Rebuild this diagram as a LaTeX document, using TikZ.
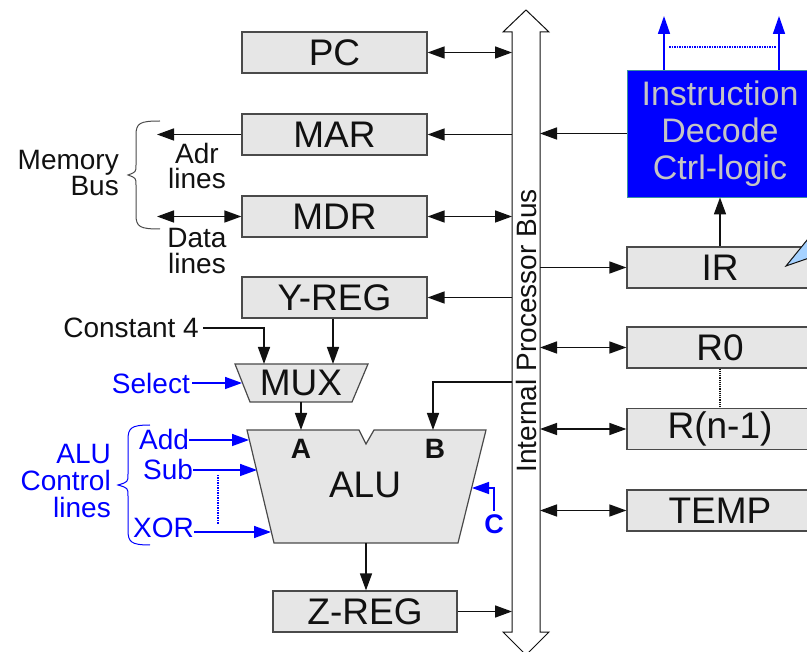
\documentclass[tikz,border=0pt]{standalone}
\usepackage{fontspec}
\setmainfont{Liberation Sans}
\usetikzlibrary{arrows.meta,positioning,calc}
\definecolor{Ink}{HTML}{111111}
\definecolor{RegFill}{HTML}{E6E6E6}
\definecolor{RegEdge}{HTML}{4A4A4A}
\definecolor{CtrlBlue}{HTML}{0000FF}
\definecolor{DecodeEdge}{HTML}{3A8FA0}
\definecolor{DecodeText}{HTML}{C4C4C4}
\definecolor{PointerFill}{HTML}{A6D2FF}
\newcommand{\bigfont}{\fontsize{37}{37}\selectfont}
\newcommand{\midfont}{\fontsize{28}{25.5}\selectfont}

\begin{document}
\begin{tikzpicture}[x=1pt,y=-1pt,
  tipto/.style={-{Triangle[length=17pt,width=12pt]}},
  tipboth/.style={{Triangle[length=17pt,width=12pt]}-{Triangle[length=17pt,width=12pt]}},
  reg/.style={draw=RegEdge,fill=RegFill,line width=1.2pt,minimum height=41pt,inner sep=0pt,font=\bigfont,text=Ink},
  wire/.style={Ink,line width=1.5pt},
  ctrl/.style={CtrlBlue,line width=1.5pt},
  note/.style={font=\midfont,inner sep=0pt,align=center,text=Ink}]
\useasboundingbox (0,0) rectangle (807,652);
% internal bus
\draw[draw=Ink,fill=white,line width=1pt] (526,10) -- (549,32) -- (540,32) -- (540,632) -- (549,632) -- (526,655) -- (503,632) -- (512,632) -- (512,32) -- (503,32) -- cycle;
\coordinate (busL) at (512,330);
\coordinate (busR) at (540,330);
\coordinate (busB) at (512,382);
\node[rotate=90,font=\fontsize{28}{28}\selectfont,text=Ink,inner sep=0pt] (busname) at (526,331) {Internal Processor Bus};
% registers
\node[reg,minimum width=185pt] (PC) at (334.5,52.5) {PC};
\node[reg,minimum width=185pt] (MAR) at (334.5,134.5) {MAR};
\node[reg,minimum width=185pt] (MDR) at (334.5,216.5) {MDR};
\node[reg,minimum width=185pt] (YREG) at (334.5,297.5) {Y-REG};
\node[reg,minimum width=184pt] (ZREG) at (365,611.5) {Z-REG};
\node[reg,minimum width=186pt] (IR) at (720,267.5) {IR};
\node[reg,minimum width=186pt] (R0) at (720,347.5) {R0};
\node[reg,minimum width=186pt] (Rn) at (720,429) {R(n-1)};
\node[reg,minimum width=186pt] (TEMP) at (720,510.5) {TEMP};
\node[draw=DecodeEdge,fill=CtrlBlue,line width=0.8pt,minimum width=186pt,minimum height=127pt,inner sep=0pt,align=center,font=\fontsize{34}{37}\selectfont,text=DecodeText] (decode) at (720,133.5) {Instruction\\Decode\\Ctrl-logic};
\draw[draw=Ink,fill=PointerFill,line width=1pt] (786,266) -- (812,234) -- (812,257) -- cycle;
% bus connections
\draw[wire,tipboth] (PC.east) -- (PC.east -| busL);
\draw[wire,tipto] (MAR.east -| busL) -- (MAR.east);
\draw[wire,tipboth] (MDR.east) -- (MDR.east -| busL);
\draw[wire,tipto] (YREG.east -| busL) -- (YREG.east);
\draw[wire,tipto] (ZREG.east) -- (ZREG.east -| busL);
\draw[wire,tipto] (decode.west) -- (decode.west -| busR);
\draw[wire,tipto] (IR.west -| busR) -- (IR.west);
\draw[wire,tipboth] (R0.west -| busR) -- (R0.west);
\draw[wire,tipboth] (Rn.west -| busR) -- (Rn.west);
\draw[wire,tipboth] (TEMP.west -| busR) -- (TEMP.west);
\draw[wire,tipto] (IR.north) -- (decode.south);
\draw[Ink,densely dotted,line width=1.2pt] (R0.south) -- (Rn.north);
% control outputs
\coordinate (ctlA) at (664,16);
\coordinate (ctlB) at (779,16);
\draw[ctrl,-{Triangle[length=18pt,width=12pt]}] (decode.north -| ctlA) -- (ctlA);
\draw[ctrl,-{Triangle[length=18pt,width=12pt]}] (decode.north -| ctlB) -- (ctlB);
\draw[ctrl,densely dotted,line width=1.2pt] (669,47) -- (776,47);
% memory bus
\coordinate (memEnd) at (157,175);
\draw[wire,tipto] (MAR.west) -- (MAR.west -| memEnd);
\draw[wire,tipboth] (MDR.west) -- (MDR.west -| memEnd);
\draw[RegEdge,line width=1pt] (160,121) .. controls (140,121) and (136,123) .. (136,135) -- (136,165) .. controls (136,172) .. (128,175) .. controls (136,178) .. (136,185) -- (136,215) .. controls (136,227) and (140,229) .. (160,229);
\node[note,anchor=east,align=right] (membus) at (119,173) {Memory\\Bus};
\node[note] (adr) at (197,166) {Adr\\lines};
\node[note] (data) at (197,251) {Data\\lines};
% multiplexer
\draw[RegEdge,fill=RegFill,line width=1.2pt] (235,364) -- (368,364) -- (352,402) -- (250,402) -- cycle;
\node[font=\bigfont,inner sep=0pt,text=Ink] (MUX) at (301,383) {MUX};
\coordinate (muxC) at (264,364);
\coordinate (muxY) at (333,364);
\coordinate (muxOut) at (301,402);
\coordinate (muxSel) at (242,383);
\node[note,anchor=east] (const) at (199,328) {Constant 4};
\draw[wire,tipto,shorten <=4pt] (const.east) -| (muxC);
\draw[wire,tipto] (YREG.south -| muxY) -- (muxY);
\node[note,anchor=east,text=CtrlBlue] (sel) at (190,383) {Select};
\draw[ctrl,tipto,shorten <=2pt] (sel.east) -- (muxSel);
% ALU
\draw[RegEdge,fill=RegFill,line width=1.2pt] (247,430) -- (359,430) -- (366,444) -- (374,430) -- (486,430) -- (458,543) -- (274,543) -- cycle;
\node[font=\bigfont,inner sep=0pt,text=Ink] (ALU) at (365,485) {ALU};
\node[font=\fontsize{28}{28}\selectfont\bfseries,inner sep=0pt,text=Ink] (inA) at (301,449) {A};
\node[font=\fontsize{28}{28}\selectfont\bfseries,inner sep=0pt,text=Ink] (inB) at (435,449) {B};
\coordinate (aluA) at (301,430);
\coordinate (aluB) at (433,430);
\coordinate (aluOut) at (366,543);
\coordinate (aluC) at (472,488);
\coordinate (aluAdd) at (249,440);
\coordinate (aluSub) at (257,470);
\coordinate (aluXor) at (271,532);
\draw[wire,tipto] (muxOut) -- (aluA);
\draw[wire,tipto] (busB) -| (aluB);
\draw[wire,tipto] (aluOut) -- (ZREG.north -| aluOut);
% ALU control lines
\node[note,anchor=west,text=CtrlBlue] (add) at (139,439) {Add};
\node[note,anchor=west,text=CtrlBlue] (sub) at (143,469) {Sub};
\node[note,anchor=west,text=CtrlBlue] (xor) at (133,528) {XOR};
\draw[ctrl,tipto] (add.east |- aluAdd) -- (aluAdd);
\draw[ctrl,tipto] (sub.east |- aluSub) -- (aluSub);
\draw[ctrl,tipto] (xor.east |- aluXor) -- (aluXor);
\draw[ctrl,densely dotted,line width=1.2pt] (218,475) -- (218,525);
\draw[CtrlBlue,line width=1pt] (150,425) .. controls (131,425) and (128,428) .. (128,440) -- (128,474) .. controls (128,482) .. (118,485) .. controls (128,488) .. (128,496) -- (128,530) .. controls (128,542) and (131,545) .. (150,545);
\node[note,anchor=east,align=right,text=CtrlBlue,font=\fontsize{28}{27}\selectfont] (aluctl) at (111,481) {ALU\\Control\\lines};
\node[font=\fontsize{27}{27}\selectfont\bfseries,inner sep=0pt,text=CtrlBlue] (cin) at (494,524) {C};
\draw[ctrl,tipto,shorten <=3pt] (cin.north) |- (aluC);
\end{tikzpicture}
\end{document}
